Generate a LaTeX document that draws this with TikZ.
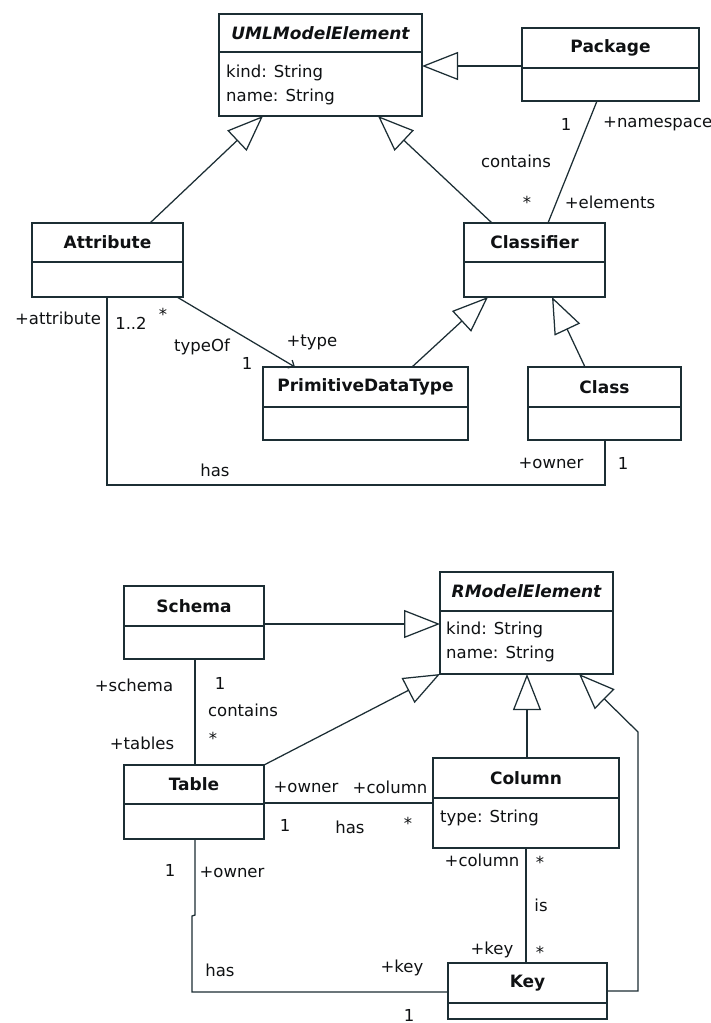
\documentclass[tikz,border=0pt]{standalone}
\usepackage{fontspec}
\setmainfont{DejaVu Sans}
\usetikzlibrary{arrows.meta,calc}
\definecolor{umlline}{RGB}{28,46,52}
\definecolor{umltext}{RGB}{15,17,19}

\tikzset{
  classbox/.style={draw=umlline, line width=1.4pt, rectangle, inner sep=0pt, outer sep=0pt},
  divider/.style={draw=umlline, line width=1.4pt},
  conn/.style={draw=umlline, line width=1.25pt},
  gen/.style={conn, -{Triangle[open, length=36pt, width=28pt]}},
  nav/.style={conn, -{Straight Barb[length=5pt, width=9pt]}},
  lbl/.style={font=\fontsize{16.5}{18}\selectfont, text=umltext, inner sep=0pt},
  ttl/.style={font=\fontsize{17}{19}\selectfont\bfseries, text=umltext, inner sep=0pt},
  abstl/.style={font=\fontsize{17}{19}\selectfont\bfseries\itshape, text=umltext, inner sep=0pt},
}

% class box: name, left, top, right, bottom, divider y, title, title style
\newcommand\umlclass[8]{%
  \node[classbox, anchor=north west,
        minimum width={(#4-#2)*1pt}, minimum height={(#5-#3)*1pt}] (#1) at (#2,#3) {};
  \draw[divider] (#2,#6) -- (#4,#6);
  \node[#8] (#1-title) at ({(#2+#4)/2},{(#3+#6)/2}) {#7};
}

\begin{document}
\begin{tikzpicture}[x=1pt, y=-1pt]
\useasboundingbox (0,0) rectangle (711,1023);
\fill[white] (0,0) rectangle (711,1023);

% ---------- UML metamodel ----------
\umlclass{uml}{219}{14}{422}{116}{52}{UMLModelElement}{abstl}
\node[lbl, anchor=west] (uml-kind) at (226,73) {kind: String};
\node[lbl, anchor=west] (uml-name) at (226,97) {name: String};
\umlclass{pkg}{522}{28}{699}{101}{68}{Package}{ttl}
\umlclass{clsf}{464}{223}{605}{297}{262}{Classifier}{ttl}
\umlclass{attr}{32}{223}{183}{297}{262}{Attribute}{ttl}
\umlclass{pdt}{263}{367}{468}{440}{407}{PrimitiveDataType}{ttl}
\umlclass{cls}{528}{367}{681}{440}{407}{Class}{ttl}

% generalizations
\draw[gen] (pkg.west |- 0,66) -- (uml.east |- 0,66);
\draw[gen] (150,0 |- attr.north) -- (263,0 |- uml.south);
\draw[gen] (492,0 |- clsf.north) -- (378,0 |- uml.south);
\draw[gen] (412,0 |- pdt.north) -- (488,0 |- clsf.south);
\draw[gen] (585,0 |- cls.north) -- (552,0 |- clsf.south);

% associations
\draw[conn] (597,0 |- pkg.south) -- (548,0 |- clsf.north);
\draw[nav] (177,0 |- attr.south) -- (295,0 |- pdt.north);
\draw[conn] (107,0 |- attr.south) -- (107,485) -| (605,0 |- cls.south);

\node[lbl] (l-pkg1) at (566,124) {1};
\node[lbl, anchor=west] (l-ns) at (603,124) {+namespace};
\node[lbl] (l-contains) at (516,161) {contains};
\node[lbl] (l-elstar) at (527,202) {*};
\node[lbl] (l-el) at (610,202) {+elements};
\node[lbl] (l-attrrole) at (58,318) {+attribute};
\node[lbl] (l-12) at (131,323) {1..2};
\node[lbl] (l-tstar) at (163,314) {*};
\node[lbl] (l-typeof) at (202,347) {typeOf};
\node[lbl] (l-t1) at (247,363) {1};
\node[lbl] (l-type) at (312,342) {+type};
\node[lbl] (l-has1) at (215,470) {has};
\node[lbl] (l-owner1) at (551,463) {+owner};
\node[lbl] (l-own1) at (623,463) {1};

% ---------- relational metamodel ----------
\umlclass{rme}{440}{572}{613}{674}{611}{RModelElement}{abstl}
\node[lbl, anchor=west] (rme-kind) at (446,630) {kind: String};
\node[lbl, anchor=west] (rme-name) at (446,654) {name: String};
\umlclass{schema}{124}{586}{264}{659}{626}{Schema}{ttl}
\umlclass{table}{124}{765}{264}{839}{804}{Table}{ttl}
\umlclass{col}{433}{758}{619}{848}{798}{Column}{ttl}
\node[lbl, anchor=west] (col-type) at (440,818) {type: String};
\umlclass{key}{448}{963}{607}{1019}{1003}{Key}{ttl}

% generalizations
\draw[gen] (schema.east |- 0,624) -- (rme.west |- 0,624);
\draw[gen] (table.north east) -- (rme.south west);
\draw[gen] (527,0 |- col.north) -- (527,0 |- rme.south);
\draw[gen] (key.east |- 0,991) -- (638,991) -- (638,732) -- (579,0 |- rme.south);

% associations
\draw[conn] (195,0 |- schema.south) -- (195,0 |- table.north);
\draw[conn] (table.east |- 0,803) -- (col.west |- 0,803);
\draw[conn] (195,0 |- table.south) -- (195,915) -- (192,916) -- (192,992) -- (key.west |- 0,992);
\draw[conn] (526,0 |- col.south) -- (526,0 |- key.north);

\node[lbl] (l-schema) at (134,685) {+schema};
\node[lbl] (l-s1) at (220,683) {1};
\node[lbl] (l-contains2) at (243,710) {contains};
\node[lbl] (l-sstar) at (213,738) {*};
\node[lbl] (l-tables) at (142,743) {+tables};
\node[lbl] (l-owner2) at (306,787) {+owner};
\node[lbl] (l-column) at (390,787) {+column};
\node[lbl] (l-c1) at (285,825) {1};
\node[lbl] (l-has2) at (350,827) {has};
\node[lbl] (l-cstar) at (408,823) {*};
\node[lbl] (l-k1) at (170,870) {1};
\node[lbl] (l-owner3) at (232,872) {+owner};
\node[lbl] (l-has3) at (220,970) {has};
\node[lbl] (l-key1) at (402,968) {+key};
\node[lbl] (l-k2) at (409,1015) {1};
\node[lbl] (l-column2) at (482,860) {+column};
\node[lbl] (l-istar1) at (540,862) {*};
\node[lbl] (l-is) at (541,905) {is};
\node[lbl] (l-key2) at (492,950) {+key};
\node[lbl] (l-istar2) at (540,952) {*};
\end{tikzpicture}
\end{document}
